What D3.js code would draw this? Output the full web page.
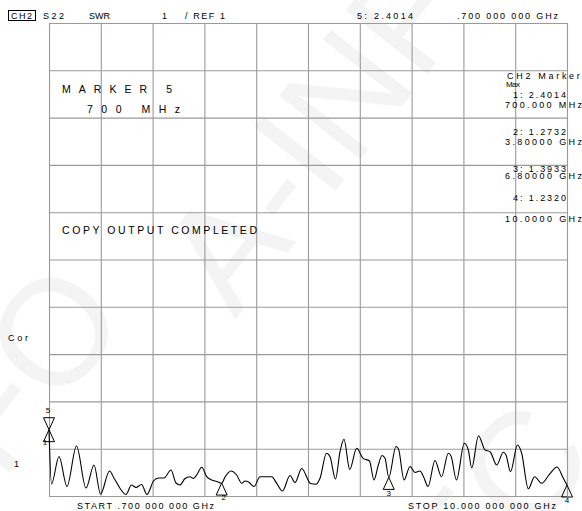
<!DOCTYPE html>
<html>
<head>
<meta charset="utf-8">
<script src="https://cdn.jsdelivr.net/npm/d3@7"></script>
<style>
  html, body { margin: 0; padding: 0; background: #fff; }
  svg { display: block; }
  text { font-family: "Liberation Sans", Arial, sans-serif; fill: #000; }
</style>
</head>
<body>
<svg id="chart" width="582" height="511"></svg>
<script>
// ---- data ----
const freqStart = 0.7, freqStop = 10.0;   // GHz
const refValue = 1, scalePerDiv = 1, divisions = 10;

const traceFreq = [0.700,0.745,0.880,1.023,1.194,1.364,1.508,1.625,1.786,1.876,2.082,2.181,2.262,2.361,2.459,2.576,2.666,2.765,2.890,2.980,3.052,3.142,3.231,3.294,3.357,3.442,3.531,3.621,3.711,3.800,3.860,3.968,4.070,4.160,4.219,4.291,4.381,4.488,4.578,4.698,4.788,4.892,5.027,5.117,5.237,5.395,5.494,5.566,5.682,5.745,5.844,5.925,5.996,6.099,6.224,6.338,6.454,6.535,6.612,6.679,6.733,6.800,6.930,6.975,7.074,7.182,7.271,7.361,7.424,7.505,7.630,7.747,7.869,7.918,8.016,8.156,8.228,8.289,8.411,8.528,8.618,8.738,8.857,8.905,8.986,9.111,9.183,9.306,9.417,9.546,9.677,9.821,9.934,10.000];
const traceSwr  = [2.401,1.254,1.835,1.201,2.057,1.169,1.655,1.042,1.529,1.359,1.032,1.233,1.180,1.243,1.032,1.317,1.381,1.381,1.550,1.275,1.233,1.370,1.408,1.370,1.455,1.607,1.408,1.338,1.307,1.273,1.402,1.529,1.444,1.268,1.317,1.290,1.201,1.408,1.408,1.408,1.268,1.106,1.433,1.285,1.581,1.264,1.247,1.374,1.903,1.831,1.359,1.937,2.199,1.560,2.008,1.797,1.740,1.338,1.655,1.856,1.797,1.393,2.046,1.994,1.338,1.624,1.497,1.529,1.408,1.201,1.751,1.408,1.903,1.846,1.338,2.114,1.973,1.592,2.275,1.973,1.937,1.655,1.924,1.867,1.514,2.078,1.920,1.152,1.408,1.268,1.444,1.613,1.374,1.232];

const markerIds  = [1, 2, 3, 4, 5];
const markerFreq = [0.7, 3.8, 6.8, 10.0, 0.7];
const markerSwr  = [2.4014, 1.2732, 1.3933, 1.2320, 2.4014];
const markerFreqLabels = ["700.000 MHz", "3.80000 GHz", "6.80000 GHz", "10.0000 GHz"];

const headerLabels = ["CH2", "S22", "SWR", "1", "/ REF 1", "5: 2.4014", ".700 000 000 GHz"];
const startLabel = "START .700 000 000 GHz";
const stopLabel  = "STOP 10.000 000 000 GHz";

// ---- drawing ----
const svg = d3.select("#chart");
svg.append("rect").attr("width", 582).attr("height", 511).attr("fill", "#fff");

// faint watermark
const wm = svg.append("g").style("fill", "#f4f4f4");
wm.append("text").attr("transform", "translate(235,320) rotate(-52)")
  .attr("font-size", 150).style("fill", "#f4f4f4").text("A-INFO");
wm.append("text").attr("transform", "translate(-160,170) rotate(-52)")
  .attr("font-size", 150).style("fill", "#f4f4f4").text("INFO");
wm.append("text").attr("transform", "translate(-90,600) rotate(-52)")
  .attr("font-size", 150).style("fill", "#f4f4f4").text("INFO");
wm.append("text").attr("transform", "translate(470,620) rotate(-52)")
  .attr("font-size", 150).style("fill", "#f4f4f4").text("EC");

const x = d3.scaleLinear().domain([freqStart, freqStop]).range([49, 567]);
const y = d3.scaleLinear().domain([refValue, refValue + scalePerDiv * divisions]).range([496, 23]);

const xTicks = d3.range(divisions + 1).map(i => freqStart + i * (freqStop - freqStart) / divisions);
const yTicks = d3.range(divisions + 1).map(i => refValue + i * scalePerDiv);

const gridColor = "#9a9a9a";
const gx = svg.append("g").attr("transform", "translate(0,496)")
  .call(d3.axisBottom(x).tickValues(xTicks).tickSize(-473).tickFormat(""));
const gy = svg.append("g").attr("transform", "translate(49,0)")
  .call(d3.axisLeft(y).tickValues(yTicks).tickSize(-518).tickFormat(""));
[gx, gy].forEach(g => {
  g.select(".domain").remove();
  g.selectAll(".tick line").attr("stroke", gridColor).attr("stroke-width", 1.1);
});

// helper for text (wide letter spacing like the plotter font)
function txt(s, px, py, size, len) {
  const t = svg.append("text").attr("x", px).attr("y", py).attr("font-size", size).text(s);
  if (len) t.attr("textLength", len).attr("lengthAdjust", "spacing");
  return t;
}

// header
svg.append("rect").attr("x", 8.5).attr("y", 10.5).attr("width", 27).attr("height", 10)
  .attr("fill", "none").attr("stroke", "#000").attr("stroke-width", 1);
txt(headerLabels[0], 11, 19, 9, 21);
txt(headerLabels[1], 43, 19, 9, 21);
txt(headerLabels[2], 89, 19, 9, 21);
txt(headerLabels[3], 162, 19, 9);
txt(headerLabels[4], 185, 19, 9, 40);
txt(headerLabels[5], 357, 19, 9, 56);
txt(headerLabels[6], 457, 19, 9, 101);

// left panel messages
txt("MARKER 5", 62, 92.5, 10.5, 110);
txt("700 MHz", 87, 112.5, 10.5, 93);
txt("COPY OUTPUT COMPLETED", 62, 233.5, 10.5, 195);
txt("Cor", 8, 341, 9, 20);
txt("1", 14, 467, 9);

// right marker table
txt("CH2 Markers", 507, 79, 9, 80);
txt("Max", 506, 86.5, 8, 14);
const fmt = d3.format(".4f");
const rowBase = [97.5, 135, 171.5, 201];
const rowFreq = [107.5, 145, 179, 221.5];
for (let i = 0; i < 4; i++) {
  txt(markerIds[i] + ": " + fmt(markerSwr[i]), 513, rowBase[i], 9, 53);
  txt(markerFreqLabels[i], 505, rowFreq[i], 9, 77);
}

// bottom labels
txt(startLabel, 77, 509, 9, 137);
txt(stopLabel, 408, 509, 9, 148);

// trace
const line = d3.line()
  .x((d, i) => x(traceFreq[i]))
  .y((d) => y(d))
  .curve(d3.curveMonotoneX);
svg.append("path").attr("d", line(traceSwr))
  .attr("fill", "none").attr("stroke", "#000").attr("stroke-width", 1.1);

// markers
const tw = 5.5, th = 12;
const labelOff = {1: [-4, 15], 2: [2, 17], 3: [0, 19], 4: [0, 18], 5: [-1, -17]};
markerIds.forEach((id, i) => {
  const mx = x(markerFreq[i]), my = y(markerSwr[i]);
  const up = id !== 5;
  const p = up
    ? `M${mx},${my} L${mx - tw},${my + th} L${mx + tw},${my + th} Z`
    : `M${mx},${my} L${mx - tw},${my - th} L${mx + tw},${my - th} Z`;
  svg.append("path").attr("d", p).attr("fill", "none").attr("stroke", "#000").attr("stroke-width", 1);
  svg.append("text").attr("x", mx + labelOff[id][0]).attr("y", my + labelOff[id][1])
    .attr("font-size", 8).attr("text-anchor", "middle").text(id);
});
</script>
</body>
</html>
